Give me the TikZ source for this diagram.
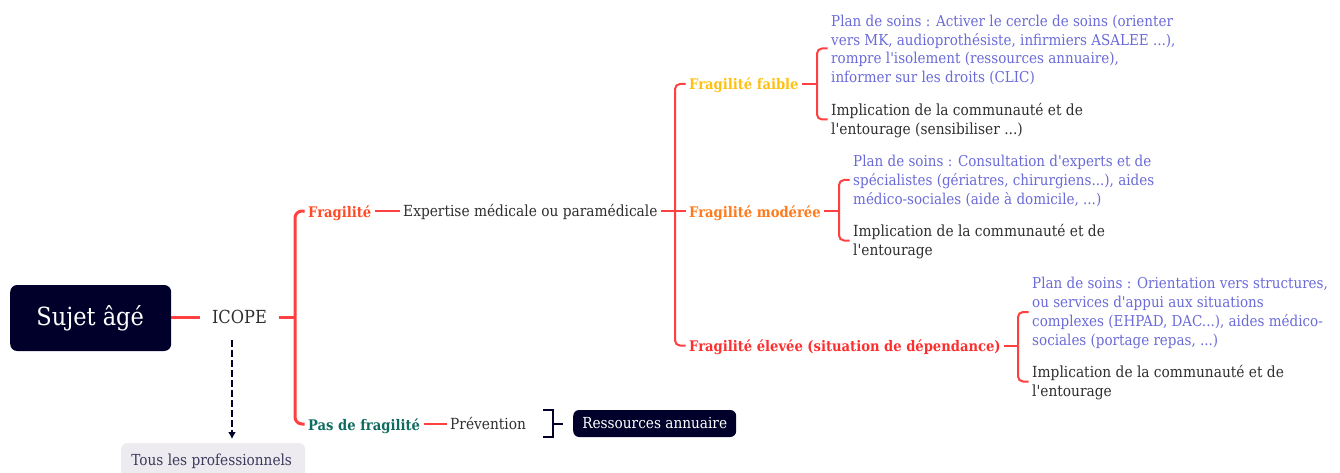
\documentclass[tikz,border=0pt]{standalone}
\usepackage{fontspec}
\setmainfont{DejaVu Serif Condensed}
\newfontface\plainface{DejaVu Serif Condensed}
\usetikzlibrary{arrows.meta}
\newcommand{\ap}{{\plainface\char"27\relax}}
\definecolor{navy}{HTML}{00002B}
\definecolor{linkred}{HTML}{FF4040}
\definecolor{bodyc}{HTML}{2E2E2E}
\definecolor{planc}{HTML}{6A6AD8}
\definecolor{cfrag}{HTML}{FF4A26}
\definecolor{cpas}{HTML}{0F6B60}
\definecolor{cfaible}{HTML}{FFC010}
\definecolor{cmod}{HTML}{FF7A1A}
\definecolor{celev}{HTML}{FF2E2E}
\definecolor{graybox}{HTML}{EDEBEF}
\definecolor{graytext}{HTML}{3A3A5C}
\tikzset{
 x=1pt,y=-1pt,
 txt/.style={font=\fontsize{15.3}{18.8}\selectfont,align=left,anchor=west,inner xsep=3.5pt,inner ysep=0pt,text=bodyc},
 plan/.style={txt,font=\fontsize{15}{18.8}\selectfont,text=planc},
 oneline/.style={txt,text height=12pt,text depth=2pt},
 lab/.style={oneline,text height=13pt,text depth=1pt,font=\fontsize{14.6}{18.8}\selectfont\bfseries},
 link/.style={draw=linkred,line width=2pt},
 curvelink/.style={link,rounded corners=5pt},
 heavylink/.style={draw=linkred,line width=3pt},
 heavycurve/.style={heavylink,rounded corners=7pt},
 darkbox/.style={fill=navy,text=white,rounded corners=7pt,inner sep=0pt},
}
\begin{document}
\begin{tikzpicture}
\useasboundingbox (0,0) rectangle (1340,473);
\clip (0,0) rectangle (1340,473);
% root
\node[darkbox,font=\fontsize{25}{28}\selectfont,minimum width=161pt,minimum height=66pt,anchor=west] (root) at (10,318) {\kern-1pt Sujet âgé};
\node[txt,font=\fontsize{18}{20}\selectfont,inner xsep=12pt,anchor=center] (icope) at (239.5,317) {ICOPE};
\node[fill=graybox,text=graytext,rounded corners=6pt,font=\fontsize{15.2}{18}\selectfont,anchor=north west,minimum width=184pt,minimum height=40pt,inner sep=0pt] (tous) at (121,443) {\raisebox{7pt}{\kern-3pt Tous les professionnels}};
% level 2
\node[lab,text=cfrag] (frag) at (304.5,211) {Fragilité};
\node[lab,text=cpas] (pas) at (304.5,424) {Pas de fragilité};
\node[oneline] (exp) at (399.5,211) {Expertise médicale ou paramédicale};
\node[oneline] (prev) at (446.5,424) {Prévention};
\node[darkbox,rounded corners=6pt,font=\fontsize{15.2}{18}\selectfont,minimum width=163pt,minimum height=27pt,anchor=west] (res) at (573,423.5) {Ressources annuaire};
% level 3
\node[lab,text=cfaible] (faible) at (685.5,84) {Fragilité faible};
\node[lab,text=cmod] (mod) at (685.5,211) {Fragilité modérée};
\node[lab,text=celev] (elev) at (685.5,345.5) {Fragilité élevée (situation de dépendance)};
% level 4
\node[plan] (p1) at (827.5,50) {Plan de soins : Activer le cercle de soins (orienter\\vers MK, audioprothésiste, infirmiers ASALEE ...),\\rompre l\ap isolement (ressources annuaire),\\informer sur les droits (CLIC)};
\node[txt] (i1) at (827.5,120.5) {Implication de la communauté et de\\l\ap entourage (sensibiliser ...)};
\node[plan] (p2) at (849.5,181) {Plan de soins : Consultation d\ap experts et de\\spécialistes (gériatres, chirurgiens...), aides\\médico-sociales (aide à domicile, ...)};
\node[txt] (i2) at (849.5,241.5) {Implication de la communauté et de\\l\ap entourage};
\node[plan] (p3) at (1028.5,313) {Plan de soins : Orientation vers structures,\\ou services d\ap appui aux situations\\complexes (EHPAD, DAC...), aides médico-\\sociales (portage repas, ...)};
\node[txt] (i3) at (1028.5,382.5) {Implication de la communauté et de\\l\ap entourage};
% junctions
\coordinate (j1) at (295,317);
\coordinate (j2) at (675,211);
\coordinate (jf) at (817,84);
\coordinate (jm) at (839,211);
\coordinate (je) at (1018,345.5);
\coordinate (bt) at (543,410);
\coordinate (bb) at (543,437);
\coordinate (bm) at (553,424);
\coordinate (astart) at (232,340);
\coordinate (aend) at (232,439);
% connectors
\draw[heavylink] (root.east |- icope) -- (icope.west);
\draw[heavylink] (icope.east) -- (j1);
\draw[heavycurve] (j1) |- (frag.west);
\draw[heavycurve] (j1) |- (pas.west);
\draw[link] (frag.east) -- (exp.west);
\draw[link] (pas.east) -- (prev.west);
\draw[link] (exp.east) -- (mod.west);
\draw[curvelink] (j2) |- (faible.west);
\draw[curvelink] (j2) |- (elev.west);
\draw[link] (faible.east) -- (jf);
\draw[curvelink] (jf) |- ([yshift=1.5pt]p1.west);
\draw[curvelink] (jf) |- ([yshift=1pt]i1.west);
\draw[link] (mod.east) -- (jm);
\draw[curvelink] (jm) |- ([yshift=1pt]p2.west);
\draw[curvelink] (jm) |- ([yshift=1pt]i2.west);
\draw[link] (elev.east) -- (je);
\draw[curvelink] (je) |- ([yshift=1pt]p3.west);
\draw[curvelink] (je) |- ([yshift=1pt]i3.west);
\draw[draw=navy,line width=2pt] (bt) -| (bm) |- (bb);
\draw[draw=navy,line width=2pt,shorten >=10pt] (bm) -- (res.west |- bm);
\draw[draw=navy,line width=1.6pt,dash pattern=on 7pt off 3pt,-{Latex[length=7pt,width=8pt]}] (astart) -- (aend);
\end{tikzpicture}
\end{document}
